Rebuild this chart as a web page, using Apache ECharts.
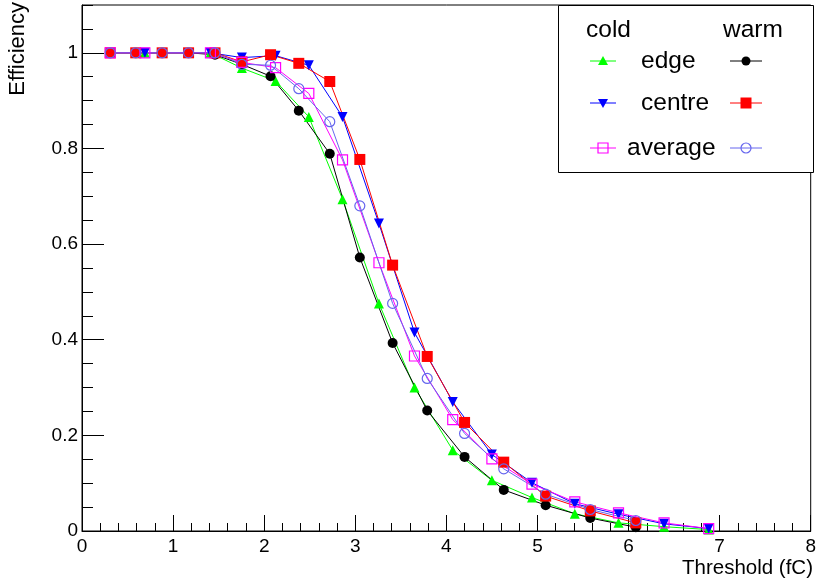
<!DOCTYPE html>
<html>
<head>
<meta charset="utf-8">
<script src="https://cdn.jsdelivr.net/npm/echarts@6/dist/echarts.min.js"></script>
<style>
html,body{margin:0;padding:0;background:#fff;}
#chart{width:819px;height:586px;}
</style>
</head>
<body>
<div id="chart"></div>
<script>
// ---- data ----
var warmX       = [0.31,0.59,0.88,1.17,1.46,1.755,2.07,2.38,2.72,3.05,3.41,3.79,4.2,4.63,5.09,5.58,6.08];
var warmEdge    = [1,1,1,1,0.996,0.976,0.951,0.879,0.789,0.572,0.393,0.252,0.155,0.086,0.054,0.027,0.008];
var warmCentre  = [1,1,1,1,1,0.981,0.996,0.978,0.94,0.777,0.556,0.365,0.227,0.144,0.073,0.042,0.017];
var warmAverage = [1,1,1,1,1,0.976,0.974,0.925,0.856,0.68,0.476,0.319,0.204,0.130,0.077,0.045,0.022];

var coldX       = [0.31,0.69,1.41,1.755,2.125,2.49,2.86,3.26,3.65,4.07,4.5,4.94,5.41,5.89,6.39,6.88];
var coldEdge    = [1,1,1,0.968,0.941,0.866,0.694,0.476,0.30,0.169,0.106,0.07,0.036,0.017,0.009,0.003];
var coldCentre  = [1,1,1,0.99,0.994,0.974,0.866,0.643,0.415,0.27,0.16,0.101,0.057,0.035,0.015,0.005];
var coldAverage = [1,1,1,0.98,0.969,0.915,0.776,0.561,0.366,0.233,0.151,0.098,0.061,0.038,0.017,0.005];

var xTickLabels = ['0','1','2','3','4','5','6','7','8'];
var yTickLabels = ['0','0.2','0.4','0.6','0.8','1'];
var legendHeaders = ['cold','warm'];
var legendRows = ['edge','centre','average'];
var xTitle = 'Threshold (fC)';
var yTitle = 'Efficiency';

function pairs(xs, ys){ return xs.map(function(x,i){ return [x, ys[i]]; }); }

var FONT = 'Liberation Sans, Arial, Helvetica, sans-serif';
var C_GREEN = '#00ff00', C_BLUE = '#0000ff', C_MAG = '#ff00ff',
    C_BLACK = '#000000', C_RED = '#ff0000', C_VIO = '#6666ee';

function lineSeries(name, data, color, symbol, size, opts){
  var s = {
    name: name, type: 'line', data: data,
    symbol: symbol, symbolSize: size,
    lineStyle: {color: color, width: 1},
    itemStyle: {color: color},
    animation: false, silent: true
  };
  for (var k in opts) s[k] = opts[k];
  return s;
}

var series = [
  lineSeries('cold edge', pairs(coldX, coldEdge), C_GREEN, 'triangle', 10, {}),
  lineSeries('warm edge', pairs(warmX, warmEdge), C_BLACK, 'circle', 10, {}),
  lineSeries('cold centre', pairs(coldX, coldCentre), C_BLUE, 'triangle', 10, {symbolRotate: 180}),
  lineSeries('warm centre', pairs(warmX, warmCentre), C_RED, 'rect', 11, {}),
  lineSeries('cold average', pairs(coldX, coldAverage), C_MAG, 'rect', 10,
    {itemStyle: {color: 'rgba(0,0,0,0)', borderColor: C_MAG, borderWidth: 1.2}}),
  lineSeries('warm average', pairs(warmX, warmAverage), C_VIO, 'circle', 10,
    {itemStyle: {color: 'rgba(0,0,0,0)', borderColor: C_VIO, borderWidth: 1.2}})
];

// legend graphic
var LX = 558, LY = 5, LW = 255, LH = 167;
var rowY = [61, 103, 148];
var leftCx = 603, rightCx = 746;
var labelX = [641, 641, 627];
var legendEls = [
  {type:'rect', shape:{x:LX+0.5, y:LY+0.5, width:LW, height:LH}, style:{fill:'#fff', stroke:'#000', lineWidth:1}},
  {type:'text', x:586, y:30, style:{text:legendHeaders[0], font:'24.5px '+FONT, fill:'#000', verticalAlign:'middle'}},
  {type:'text', x:723, y:30, style:{text:legendHeaders[1], font:'24.5px '+FONT, fill:'#000', verticalAlign:'middle'}}
];
legendRows.forEach(function(t, i){
  legendEls.push({type:'text', x:labelX[i], y:rowY[i], style:{text:t, font:'24.5px '+FONT, fill:'#000', verticalAlign:'middle'}});
});
var leftCols = [C_GREEN, C_BLUE, C_MAG], rightCols = [C_BLACK, C_RED, C_VIO];
for (var i=0;i<3;i++){
  legendEls.push({type:'line', shape:{x1:590, y1:rowY[i], x2:616, y2:rowY[i]}, style:{stroke:leftCols[i], lineWidth:1}});
  legendEls.push({type:'line', shape:{x1:730, y1:rowY[i], x2:762, y2:rowY[i]}, style:{stroke:rightCols[i], lineWidth:1}});
}
// left markers
legendEls.push({type:'polygon', shape:{points:[[leftCx, rowY[0]-5],[leftCx-5, rowY[0]+4],[leftCx+5, rowY[0]+4]]}, style:{fill:C_GREEN}});
legendEls.push({type:'polygon', shape:{points:[[leftCx, rowY[1]+5],[leftCx-5, rowY[1]-4],[leftCx+5, rowY[1]-4]]}, style:{fill:C_BLUE}});
legendEls.push({type:'rect', shape:{x:leftCx-5, y:rowY[2]-5, width:10, height:10}, style:{fill:'none', stroke:C_MAG, lineWidth:1.2}});
// right markers
legendEls.push({type:'circle', shape:{cx:rightCx, cy:rowY[0], r:4.5}, style:{fill:C_BLACK}});
legendEls.push({type:'rect', shape:{x:rightCx-5.5, y:rowY[1]-5.5, width:11, height:11}, style:{fill:C_RED}});
legendEls.push({type:'circle', shape:{cx:rightCx, cy:rowY[2], r:5}, style:{fill:'none', stroke:C_VIO, lineWidth:1.2}});

var chart = echarts.init(document.getElementById('chart'), null, {renderer:'canvas'});
chart.setOption({
  animation: false,
  backgroundColor: '#fff',
  grid: {left: 82, right: 6, top: 5, bottom: 55, show: true, borderColor: '#000', borderWidth: 1, backgroundColor: 'transparent'},
  xAxis: {
    type: 'value', min: 0, max: 8, interval: 1,
    axisLine: {show: true, onZero: false, lineStyle: {color: '#000', width: 1}},
    axisTick: {show: true, inside: true, length: 16, lineStyle: {color: '#000', width: 1}},
    minorTick: {show: true, splitNumber: 5, length: 8, lineStyle: {color: '#000', width: 1}},
    splitLine: {show: false},
    axisLabel: {
      color: '#000', fontSize: 19, fontFamily: FONT, margin: 6,
      showMinLabel: true, showMaxLabel: true,
      formatter: function(v){ return xTickLabels[Math.round(v)]; }
    }
  },
  yAxis: [{
    type: 'value', min: 0, max: 1.1, interval: 0.2, position: 'left',
    axisLine: {show: true, onZero: false, lineStyle: {color: '#000', width: 1}},
    axisTick: {show: true, inside: true, length: 22, lineStyle: {color: '#000', width: 1}},
    splitLine: {show: false},
    axisLabel: {
      color: '#000', fontSize: 19, fontFamily: FONT, margin: 4,
      showMaxLabel: false,
      formatter: function(v){ var k = Math.round(v/0.2); return (Math.abs(v - k*0.2) < 1e-6 && k < yTickLabels.length) ? yTickLabels[k] : ''; }
    }
  }, {
    type: 'value', min: 0, max: 1.1, interval: 0.05, position: 'left', offset: 0,
    axisLine: {show: false},
    axisTick: {show: true, inside: true, length: 11, lineStyle: {color: '#000', width: 1}},
    splitLine: {show: false},
    axisLabel: {show: false}
  }],
  graphic: [
    {type:'text', x: 18, y: 2, rotation: Math.PI/2,
     style:{text: yTitle, font: '22px '+FONT, fill:'#000', align:'right', verticalAlign:'middle'}},
    {type:'text', x: 813, y: 568,
     style:{text: xTitle, font: '20.5px '+FONT, fill:'#000', align:'right', verticalAlign:'middle'}},
    {type:'group', children: legendEls, z: 100}
  ],
  series: series
});
</script>
</body>
</html>
